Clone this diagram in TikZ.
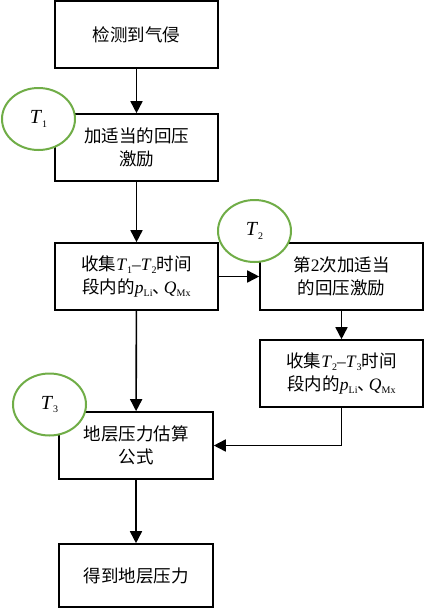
\documentclass[tikz,border=0pt]{standalone}
\usepackage{fontspec}
\setmainfont{Liberation Serif}
\newfontfamily\cjk{Noto Sans CJK SC}
\usetikzlibrary{arrows.meta,shapes.geometric}
\newcommand\ital[2]{{\rmfamily\textit{#1}\raisebox{-0.35ex}{\fontsize{10}{10}\selectfont #2}}}
\newcommand\dunhao{、\hspace{-0.35em}}
\definecolor{circgreen}{RGB}{112,173,71}
\begin{document}
\begin{tikzpicture}[x=1pt,y=-1pt,
  box/.style={draw,line width=1.6pt,rectangle,minimum width=163pt,minimum height=67pt,inner sep=0pt,align=center,font=\cjk\fontsize{17.5}{23}\selectfont},
  tcirc/.style={draw=circgreen,line width=2pt,fill=white,ellipse,minimum width=73pt,minimum height=62pt,inner sep=0pt,font=\fontsize{20}{20}\selectfont},
  arr/.style={line width=1.6pt,-{Triangle[width=12pt,length=12pt]}}]
\useasboundingbox (0,0) rectangle (424,608);
\node[box] (b1) at (136.5,34.5) {检测到气侵};
\node[box] (b2) at (136.5,147.5) {加适当的回压\\激励};
\node[box] (b3) at (136.5,276.5) {收集\ital{T}{1}{\rmfamily–}\ital{T}{2}时间\\段内的\ital{p}{Li}\dunhao\ital{Q}{Mx}};
\node[box] (b4) at (341.5,276.5) {第{\rmfamily 2}次加适当\\的回压激励};
\node[box] (b5) at (341.5,373.5) {收集\ital{T}{2}{\rmfamily–}\ital{T}{3}时间\\段内的\ital{p}{Li}\dunhao\ital{Q}{Mx}};
\node[box,minimum width=154pt] (b6) at (136,445.5) {地层压力估算\\公式};
\node[box,minimum width=154pt,minimum height=63pt] (b7) at (136,575.5) {得到地层压力};
\node[tcirc] (c1) at (38.5,119) {\ital{T}{1}};
\node[tcirc] (c2) at (254.5,231) {\ital{T}{2}};
\node[tcirc] (c3) at (49.5,404.5) {\ital{T}{3}};
\draw[arr] (b1) -- (b2);
\draw[arr] (b2) -- (b3);
\draw[arr] (b3) -- (b4);
\draw[arr] (b4) -- (b5);
\draw[arr] (b3) -- (b6);
\draw[arr] (b5.south) |- (b6.east);
\draw[arr] (b6) -- (b7);
\end{tikzpicture}
\end{document}
